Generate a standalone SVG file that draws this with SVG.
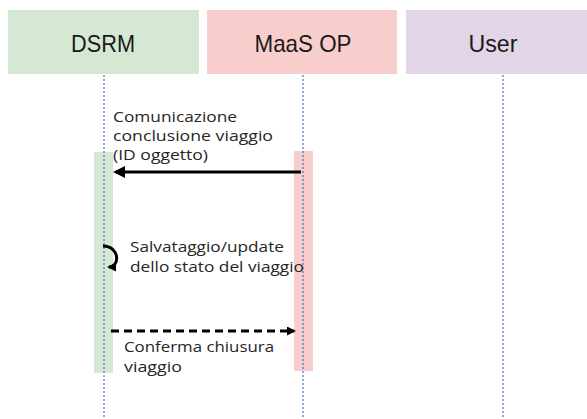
<svg xmlns="http://www.w3.org/2000/svg" width="587" height="419" viewBox="0 0 587 419">
<style>
.hdr{font-family:"Liberation Sans",Arial,sans-serif;font-size:24px;fill:#1a1a1a;text-anchor:middle}
.lbl{font-family:"Open Sans","Liberation Sans",sans-serif;font-size:14.5px;fill:#262626}
.life{stroke:#4472c4;stroke-width:1.2;stroke-dasharray:2 2;fill:none}
.msg{stroke:#000;stroke-width:3;fill:none}
</style>
<defs>
<marker id="ah" markerWidth="9" markerHeight="9" refX="7" refY="4.5" orient="auto" markerUnits="userSpaceOnUse" viewBox="0 0 9 9">
<path d="M0,0 L9,4.5 L0,9 Z" fill="#000"/>
</marker>
<marker id="ah2" markerWidth="12" markerHeight="12" refX="9" refY="6" orient="auto" markerUnits="userSpaceOnUse" viewBox="0 0 12 12">
<path d="M0,0 L12,6 L0,12 Z" fill="#000"/>
</marker>
</defs>
<rect width="587" height="419" fill="#fff"/>
<g id="dsrm">
<rect x="8" y="10" width="191" height="64" fill="#d5e8d4"/>
<text class="hdr" x="103" y="52" textLength="64" lengthAdjust="spacingAndGlyphs">DSRM</text>
<rect x="94" y="152" width="19" height="221" fill="#d5e8d4"/>
</g>
<g id="maas">
<rect x="207" y="10" width="190" height="64" fill="#f8cecc"/>
<text class="hdr" x="303" y="52" textLength="97" lengthAdjust="spacingAndGlyphs">MaaS OP</text>
<rect x="294" y="151" width="19" height="220" fill="#f8cecc"/>
</g>
<g id="user">
<rect x="406" y="10" width="181" height="64" fill="#e1d5e7"/>
<text class="hdr" x="493" y="52" textLength="49" lengthAdjust="spacingAndGlyphs">User</text>
</g>
<g id="lifelines">
<line class="life" x1="104" y1="75" x2="104" y2="419"/>
<line class="life" x1="303" y1="75" x2="303" y2="419"/>
<line class="life" x1="503" y1="75" x2="503" y2="419"/>
</g>
<g id="connectors">
<line class="msg" x1="301" y1="172" x2="116" y2="172" marker-end="url(#ah2)"/>
<path class="msg" d="M103,246 C120,246 120,267 109,267" marker-end="url(#ah)"/>
<line class="msg" x1="111" y1="331" x2="294" y2="331" stroke-width="2" stroke-dasharray="8 5" marker-end="url(#ah)"/>
</g>
<g id="labels">
<text class="lbl" x="113" y="122" textLength="124" lengthAdjust="spacingAndGlyphs">Comunicazione</text>
<text class="lbl" x="113" y="141" textLength="160" lengthAdjust="spacingAndGlyphs">conclusione viaggio</text>
<text class="lbl" x="113" y="160" textLength="95" lengthAdjust="spacingAndGlyphs">(ID oggetto)</text>
<text class="lbl" x="130" y="252" textLength="154" lengthAdjust="spacingAndGlyphs">Salvataggio/update</text>
<text class="lbl" x="130" y="272" textLength="174" lengthAdjust="spacingAndGlyphs">dello stato del viaggio</text>
<text class="lbl" x="124" y="352" textLength="150" lengthAdjust="spacingAndGlyphs">Conferma chiusura</text>
<text class="lbl" x="124" y="372" textLength="58" lengthAdjust="spacingAndGlyphs">viaggio</text>
</g>
</svg>
